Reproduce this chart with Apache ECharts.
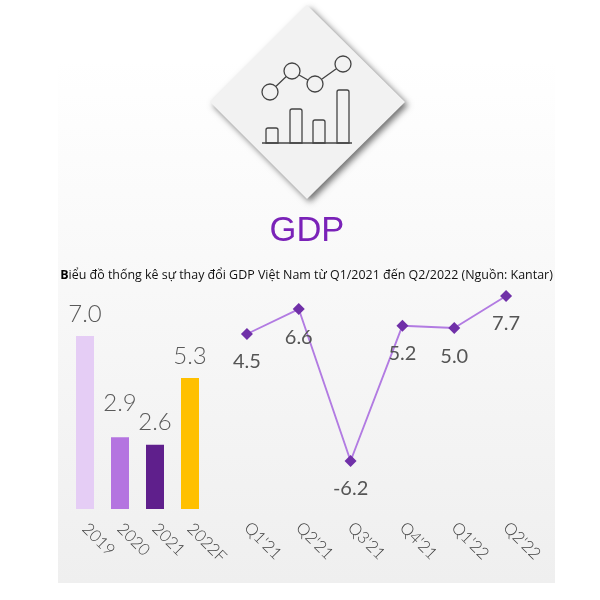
<!DOCTYPE html>
<html><head><meta charset="utf-8">
<style>html,body{margin:0;padding:0;background:#fff}#c{width:600px;height:600px}</style>
<script src="https://cdn.jsdelivr.net/npm/echarts@6/dist/echarts.min.js"></script>
</head><body><div id="c"></div>
<script>
const yearCategories = ['2019','2020','2021','2022F'];
const yearValues = [7.0,2.9,2.6,5.3];
const yearColors = ['#e5cdf5','#b474e0','#5f1f8c','#ffc000'];
const quarterCategories = ["Q1'21","Q2'21","Q3'21","Q4'21","Q1'22","Q2'22"];
const quarterValues = [4.5,6.6,-6.2,5.2,5.0,7.7];
const titleText = 'GDP';
const subtitleHead = 'B';
const subtitleText = 'iểu đồ thống kê sự thay đổi GDP Việt Nam từ Q1/2021 đến Q2/2022 (Nguồn: Kantar)';

const labelFont = {fontFamily:'Lato',fontWeight:300,color:'#555'};
const chart = echarts.init(document.getElementById('c'),null,{renderer:'canvas'});
const iconStroke = {stroke:'#444',lineWidth:1.3,fill:'transparent'};
const iconCircles = [[270,92],[292,71],[315,84],[343,64]];
const iconBars = [[266,128,12,15],[290,109,12,34],[313,120,12,23],[337,90,12,53]];
const g = [];
g.push({type:'rect',z:-10,shape:{x:58,y:60,width:497,height:523},
  style:{fill:new echarts.graphic.LinearGradient(0,0,0,1,[{offset:0,color:'#ffffff'},{offset:1,color:'#efefef'}])}});
g.push({type:'polygon',z:-5,shape:{points:[[307,5],[405,102],[307,199],[210,102]]},
  style:{fill:'#f2f2f2',shadowBlur:6,shadowColor:'rgba(0,0,0,0.55)',shadowOffsetX:3,shadowOffsetY:3}});
g.push({type:'polyline',z:-4,shape:{points:iconCircles},style:{stroke:'#444',lineWidth:1.3,fill:null}});
iconCircles.forEach(c=>g.push({type:'circle',z:-3,shape:{cx:c[0],cy:c[1],r:8},style:{stroke:'#444',lineWidth:1.3,fill:'#f2f2f2'}}));
iconBars.forEach(b=>g.push({type:'rect',z:-3,shape:{x:b[0],y:b[1],width:b[2],height:b[3],r:[2,2,0,0]},style:iconStroke}));
g.push({type:'line',z:-3,shape:{x1:262,y1:143,x2:352,y2:143},style:{stroke:'#444',lineWidth:1.3}});

chart.setOption({
  animation:false,
  backgroundColor:'#fff',
  title:[
    {text:titleText,left:302,top:209,textAlign:'center',textStyle:{fontFamily:'Liberation Sans',fontSize:34.5,fontWeight:'normal',color:'#7a22b8'}},
    {text:'{h|'+subtitleHead+'}'+subtitleText,left:301.5,top:264,textAlign:'center',
     textStyle:{fontFamily:'Open Sans',fontSize:12.45,fontWeight:'normal',color:'#111',
       rich:{h:{fontFamily:'Open Sans',fontSize:12.45,fontWeight:'bold',color:'#000'}}}}
  ],
  graphic:g,
  grid:[
    {left:67.5,width:140,top:336,height:173},
    {left:221,width:311,top:296,height:165}
  ],
  xAxis:[
    {gridIndex:0,type:'category',data:yearCategories,axisLine:{show:false},axisTick:{show:false},
     axisLabel:{...labelFont,color:'#444',interval:0,rotate:-45,fontSize:16.5,margin:17}},
    {gridIndex:1,type:'category',data:quarterCategories,position:'bottom',offset:59,axisLine:{show:false},axisTick:{show:false},
     axisLabel:{...labelFont,color:'#444',interval:0,rotate:-45,fontSize:16.5,margin:5}}
  ],
  yAxis:[
    {gridIndex:0,type:'value',min:0,max:7,show:false},
    {gridIndex:1,type:'value',min:-6.2,max:7.7,show:false}
  ],
  series:[
    {type:'bar',xAxisIndex:0,yAxisIndex:0,barWidth:18,
     data:yearValues.map((v,i)=>({value:v,itemStyle:{color:yearColors[i]},label:{distance:i===1?22:10}})),
     label:{show:true,position:'top',distance:10,...labelFont,color:'#5a5a5a',fontSize:24,formatter:p=>p.value.toFixed(1)}},
    {type:'line',xAxisIndex:1,yAxisIndex:1,data:quarterValues,symbol:'diamond',symbolSize:12,
     lineStyle:{color:'#b27be2',width:1.9},itemStyle:{color:'#7030a8'},
     label:{show:true,position:'bottom',distance:12,fontFamily:'Lato',fontWeight:'normal',color:'#555',fontSize:20,formatter:p=>p.value.toFixed(1)}}
  ]
});
</script></body></html>
